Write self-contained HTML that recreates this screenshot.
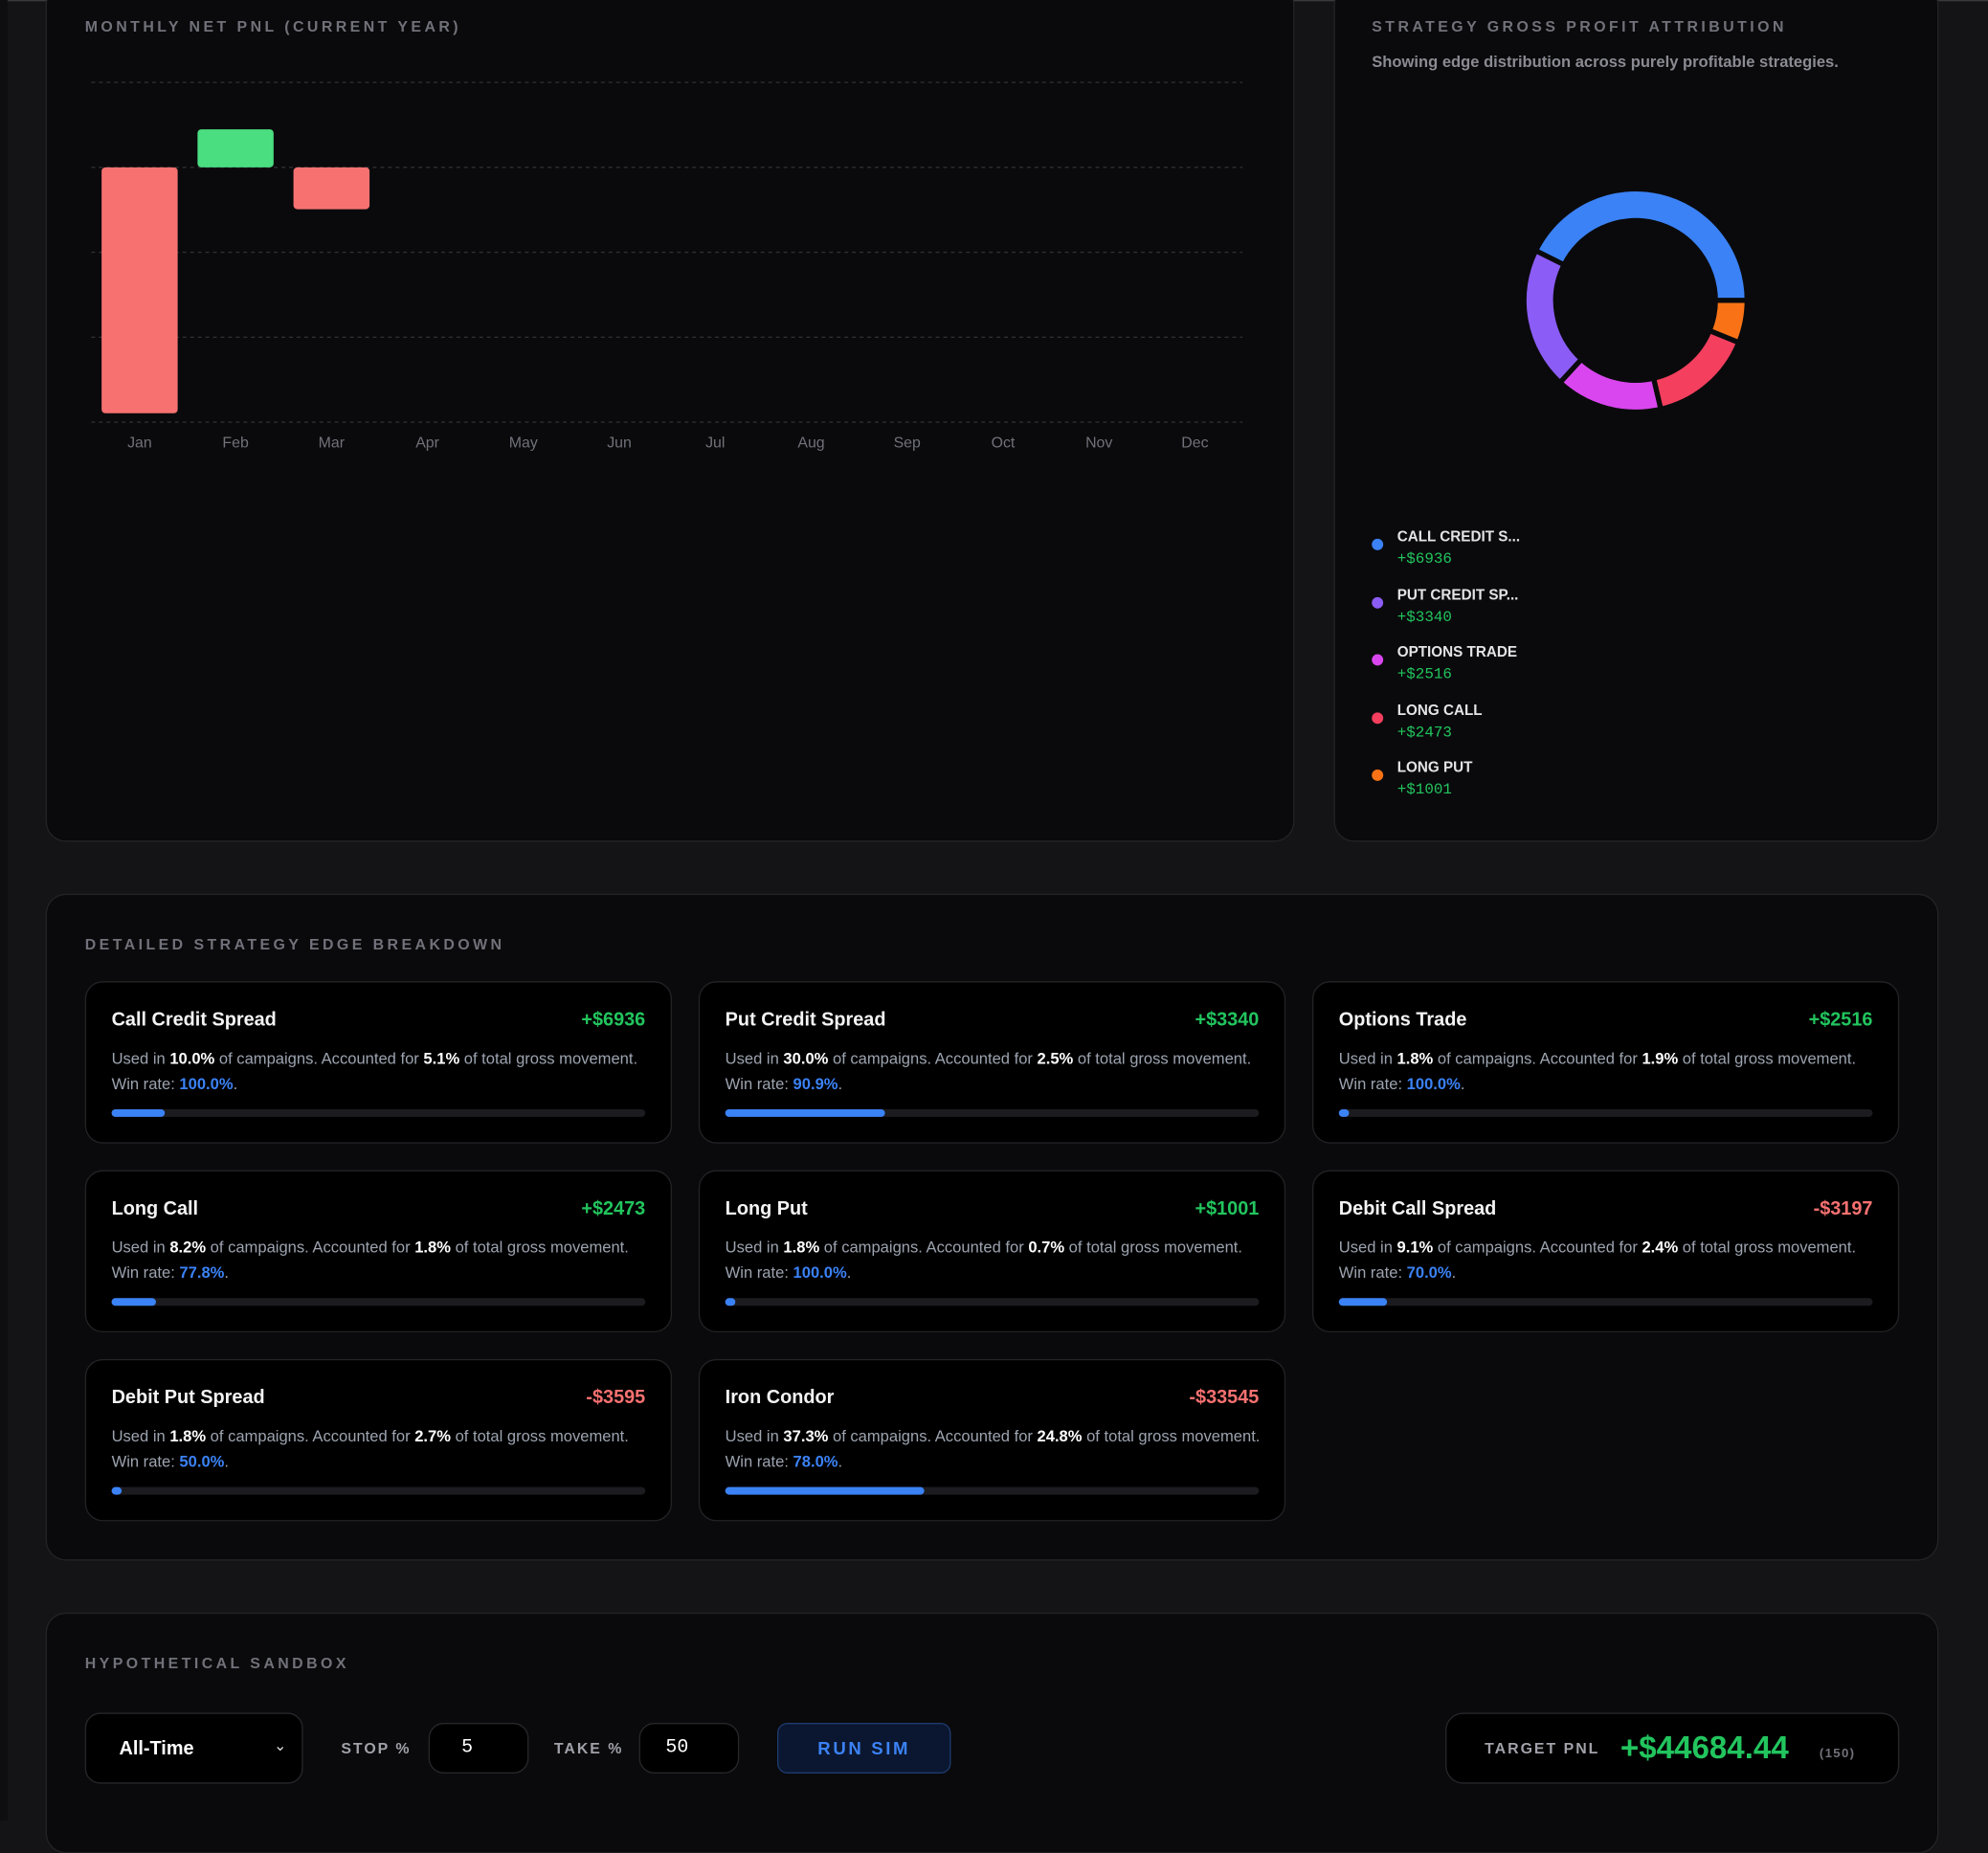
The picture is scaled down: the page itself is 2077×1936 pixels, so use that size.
<!DOCTYPE html>
<html><head><meta charset="utf-8">
<style>
*{box-sizing:border-box;margin:0;padding:0}
html,body{width:2077px;height:1902px;overflow:hidden;background:#141416;font-family:"Liberation Sans",sans-serif}
#root{position:absolute;left:0;top:0;width:1568px;height:1436px;transform:scale(1.32462,1.32451);transform-origin:0 0;background:#141416;}
.panel{position:absolute;background:#0a0a0c;border:1px solid #232326;border-radius:16px}
.h{position:absolute;font-size:12px;font-weight:bold;letter-spacing:2.6px;color:#71717a}
.card{position:absolute;width:463px;height:128px;background:#000;border:1px solid #232326;border-radius:14px}
.card .t{position:absolute;left:20px;top:21px;font-size:15px;font-weight:bold;color:#f4f4f5}
.card .v{position:absolute;right:20px;top:21px;font-size:15px;font-weight:bold}
.card .d{position:absolute;left:20px;top:50px;font-size:12.5px;line-height:20px;color:#9ca3af;white-space:nowrap}
.card .d b{color:#fff}.card .d i{font-style:normal;font-weight:bold;color:#3b82f6}
.card .bar{position:absolute;left:20px;right:20px;top:100px;height:6px;border-radius:3px;background:#1c1c20}
.card .fill{height:6px;border-radius:3px;background:#3b82f6}
.pos{color:#22c55e}.neg{color:#f87171}
.lg{position:absolute;left:1082px}
.lg .dot{position:absolute;left:0;top:7px;width:9px;height:9px;border-radius:50%}
.lg .n{position:absolute;left:20px;top:0;font-size:11.5px;font-weight:bold;color:#e4e4e7;white-space:nowrap}
.lg .m{position:absolute;left:20px;top:16px;font-size:12px;color:#22c55e;font-family:"Liberation Mono",monospace}
.box{position:absolute;background:#000;border:1px solid #27272a;border-radius:12px}
.lbl{position:absolute;font-size:12px;font-weight:bold;letter-spacing:1.5px;color:#a1a1aa}
</style></head><body>
<div id="root">
<div style="position:absolute;left:0;top:0;width:1568px;height:1px;background:#3a3a3e"></div>
<div style="position:absolute;left:0;top:0;width:6px;height:1436px;background:#0e0e10"></div>

<div class="panel" style="left:36px;top:-12px;width:985px;height:676px">
<div class="h" style="left:30px;top:25px">MONTHLY NET PNL (CURRENT YEAR)</div>
</div>
<svg id="bars" style="position:absolute;left:0;top:0" width="1020" height="400"></svg>

<div class="panel" style="left:1052px;top:-12px;width:477px;height:676px">
<div class="h" style="left:29px;top:25px">STRATEGY GROSS PROFIT ATTRIBUTION</div>
<div style="position:absolute;left:29px;top:53px;font-size:12.5px;font-weight:bold;color:#8b8b93">Showing edge distribution across purely profitable strategies.</div>
</div>
<svg id="donut" style="position:absolute;left:1190px;top:137px" width="200" height="200"></svg>
<div id="legend"></div>

<div class="panel" style="left:36px;top:705px;width:1493px;height:526px">
<div class="h" style="left:30px;top:32px">DETAILED STRATEGY EDGE BREAKDOWN</div>
</div>
<div id="cards"></div>

<div class="panel" style="left:36px;top:1272px;width:1493px;height:190px">
<div class="h" style="left:30px;top:32px">HYPOTHETICAL SANDBOX</div>
</div>
<div class="box" style="left:67px;top:1351px;width:172px;height:56px">
<span style="position:absolute;left:26px;top:19px;font-size:15px;font-weight:bold;color:#fff">All-Time</span>
<span style="position:absolute;right:12px;top:18px;font-size:12px;color:#ddd">&#8964;</span></div>
<div class="lbl" style="left:269px;top:1372px">STOP %</div>
<div class="box" style="left:338px;top:1359px;width:79px;height:40px"><span style="position:absolute;left:25px;top:10px;font-size:15px;color:#fff;font-family:'Liberation Mono',monospace">5</span></div>
<div class="lbl" style="left:437px;top:1372px">TAKE %</div>
<div class="box" style="left:504px;top:1359px;width:79px;height:40px"><span style="position:absolute;left:20px;top:10px;font-size:15px;color:#fff;font-family:'Liberation Mono',monospace">50</span></div>
<div style="position:absolute;left:613px;top:1359px;width:137px;height:40px;background:#0b1730;border:1px solid #1e3a6e;border-radius:8px;color:#3b82f6;font-size:14px;font-weight:bold;letter-spacing:2px;text-align:center;line-height:38px">RUN SIM</div>
<div class="box" style="left:1140px;top:1351px;width:358px;height:56px;border-radius:14px">
<span style="position:absolute;left:30px;top:20px;font-size:12px;font-weight:bold;letter-spacing:1.5px;color:#a1a1aa">TARGET PNL</span>
<span style="position:absolute;left:137px;top:13px;font-size:25px;font-weight:bold;color:#22c55e">+$44684.44</span>
<span style="position:absolute;left:294px;top:26px;font-size:10px;font-weight:bold;color:#71717a;letter-spacing:1px">(150)</span></div>
</div>
<script>
const months=["Jan","Feb","Mar","Apr","May","Jun","Jul","Aug","Sep","Oct","Nov","Dec"];
const pnl=[-28950,4480,-4930,0,0,0,0,0,0,0,0,0];
const yTicks=[10000,0,-10000,-20000,-30000];
const stratNames=["CALL CREDIT S...","PUT CREDIT SP...","OPTIONS TRADE","LONG CALL","LONG PUT"];
const stratProfit=[6936,3340,2516,2473,1001];
const stratColors=["#3b82f6","#8b5cf6","#d946ef","#f43f5e","#f97316"];
const cardNames=["Call Credit Spread","Put Credit Spread","Options Trade","Long Call","Long Put","Debit Call Spread","Debit Put Spread","Iron Condor"];
const cardPnl=[6936,3340,2516,2473,1001,-3197,-3595,-33545];
const cardUsage=[10.0,30.0,1.8,8.2,1.8,9.1,1.8,37.3];
const cardShare=[5.1,2.5,1.9,1.8,0.7,2.4,2.7,24.8];
const cardWin=[100.0,90.9,100.0,77.8,100.0,70.0,50.0,78.0];

const NS="http://www.w3.org/2000/svg";
function mk(t,a,p){const e=document.createElementNS(NS,t);for(const k in a)e.setAttribute(k,a[k]);p.appendChild(e);return e;}
const bs=document.getElementById('bars');
const x0=72,x1=980,yTop=65,yBot=333;
const yMax=10000,yMin=-30000;
const yS=v=>yTop+(yMax-v)/(yMax-yMin)*(yBot-yTop);
const slot=(x1-x0)/12;
const xS=i=>x0+slot*(i+0.5)+0.3;
yTicks.forEach(t=>{const l=mk('line',{x1:x0,x2:x1,y1:yS(t),y2:yS(t),stroke:'#2e2e33','stroke-dasharray':'3 3','stroke-width':1},bs);

});
months.forEach((m,i)=>{const t=mk('text',{x:xS(i),y:353,'text-anchor':'middle','font-size':12,fill:'#71717a','font-family':'Liberation Sans'},bs);t.textContent=m;

});
pnl.forEach((v,i)=>{if(!v)return;const y0=yS(0),y=yS(v);const r=mk('rect',{x:xS(i)-30,y:Math.min(y0,y),width:60,height:Math.abs(y-y0),rx:3,fill:v>0?'#4ade80':'#f87171'},bs);

});
const ds=document.getElementById('donut');
const cx=100,cy=100,R=88,r0=63;
const tot=stratProfit.reduce((a,b)=>a+b,0);
let ang=0;
function pt(rr,a){return [cx+rr*Math.cos(a),cy+rr*Math.sin(a)];}
stratProfit.forEach((v,i)=>{const a0=ang,a1=ang-v/tot*2*Math.PI;ang=a1;
const large=(a0-a1)>Math.PI?1:0;
const p1=pt(R,a0),p2=pt(R,a1),p3=pt(r0,a1),p4=pt(r0,a0);
const d=`M${p1} A${R},${R} 0 ${large} 0 ${p2} L${p3} A${r0},${r0} 0 ${large} 1 ${p4}Z`;
const p=mk('path',{d:d,fill:stratColors[i],stroke:'#0a0a0c','stroke-width':4},ds);

});
const lg=document.getElementById('legend');
stratNames.forEach((n,i)=>{const d=document.createElement('div');d.className='lg';d.style.top=(418+i*45.5)+'px';


d.innerHTML=`<div class="dot" style="background:${stratColors[i]}"></div><div class="n">${n}</div><div class="m">+$${stratProfit[i]}</div>`;lg.appendChild(d);});
const cs=document.getElementById('cards');
const colX=[67,551,1035],rowY=[774,923,1072];
cardNames.forEach((n,i)=>{const c=document.createElement('div');c.className='card';
c.style.left=colX[i%3]+'px';c.style.top=rowY[Math.floor(i/3)]+'px';


const v=cardPnl[i];
c.innerHTML=`<div class="t">${n}</div><div class="v ${v>=0?'pos':'neg'}">${v>=0?'+':'-'}$${Math.abs(v)}</div>
<div class="d">Used in <b>${cardUsage[i].toFixed(1)}%</b> of campaigns. Accounted for <b>${cardShare[i].toFixed(1)}%</b> of total gross movement.<br>Win rate: <i>${cardWin[i].toFixed(1)}%</i>.</div>
<div class="bar"><div class="fill" style="width:${Math.max(cardUsage[i],1.4)}%"></div></div>`;
cs.appendChild(c);});
</script>
</body></html>
